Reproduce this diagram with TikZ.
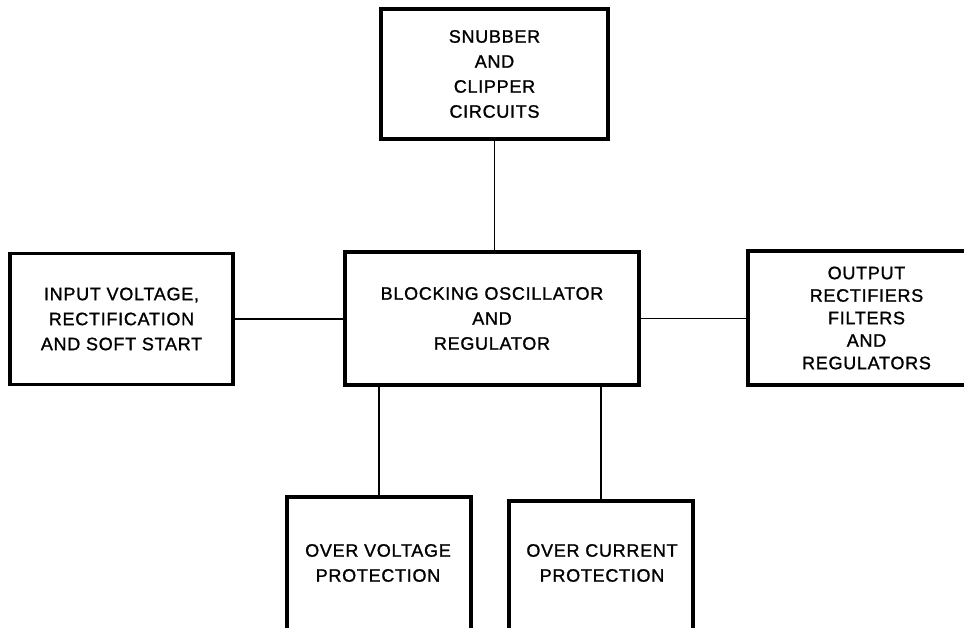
\documentclass[tikz,border=0pt]{standalone}
\usepackage{fontspec}
\setmainfont{Liberation Sans}[LetterSpace=4,FakeBold=1.2]
\begin{document}
\begin{tikzpicture}[x=1pt,y=-1pt,
  blockbox/.style={draw=black, line width=3.2pt, rectangle, inner sep=0pt, align=center,
    font=\fontsize{18}{25}\selectfont},
  lbl/.style={inner sep=0pt, align=center, font=\fontsize{18}{25}\selectfont},
  conn/.style={draw=black, line width=1.8pt}]
\useasboundingbox (0,0) rectangle (964,628);
\clip (0,0) rectangle (964,628);
\fill[white] (0,0) rectangle (964,628);

\node[blockbox, minimum width=227pt, minimum height=130pt] (snub) at (494.5,74)
  {SNUBBER\\AND\\CLIPPER\\CIRCUITS};
\node[blockbox, minimum width=223pt, minimum height=131pt] (inp) at (121.5,319)
  {INPUT VOLTAGE,\\RECTIFICATION\\AND SOFT START};
\node[blockbox, minimum width=294pt, minimum height=133pt] (blk) at (492,318.5)
  {BLOCKING OSCILLATOR\\AND\\REGULATOR};
\node[blockbox, minimum width=237pt, minimum height=134pt,
  font=\fontsize{18}{22.5}\selectfont] (out) at (866.5,318)
  {OUTPUT\\RECTIFIERS\\FILTERS\\AND\\REGULATORS};
\node[blockbox, minimum width=184pt, minimum height=250pt] (ov) at (379,622) {};
\node[blockbox, minimum width=184pt, minimum height=250pt] (oc) at (601,626) {};
\node[lbl] (ovt) at (378,563) {OVER VOLTAGE\\PROTECTION};
\node[lbl] (oct) at (602,563) {OVER CURRENT\\PROTECTION};

\draw[conn] (snub.south) -- (snub.south |- blk.north);
\draw[conn] (inp.east) -- (inp.east -| blk.west);
\draw[conn] (blk.east) -- (blk.east -| out.west);
\draw[conn] (ov.north |- blk.south) -- (ov.north);
\draw[conn] (oc.north |- blk.south) -- (oc.north);
\end{tikzpicture}
\end{document}
